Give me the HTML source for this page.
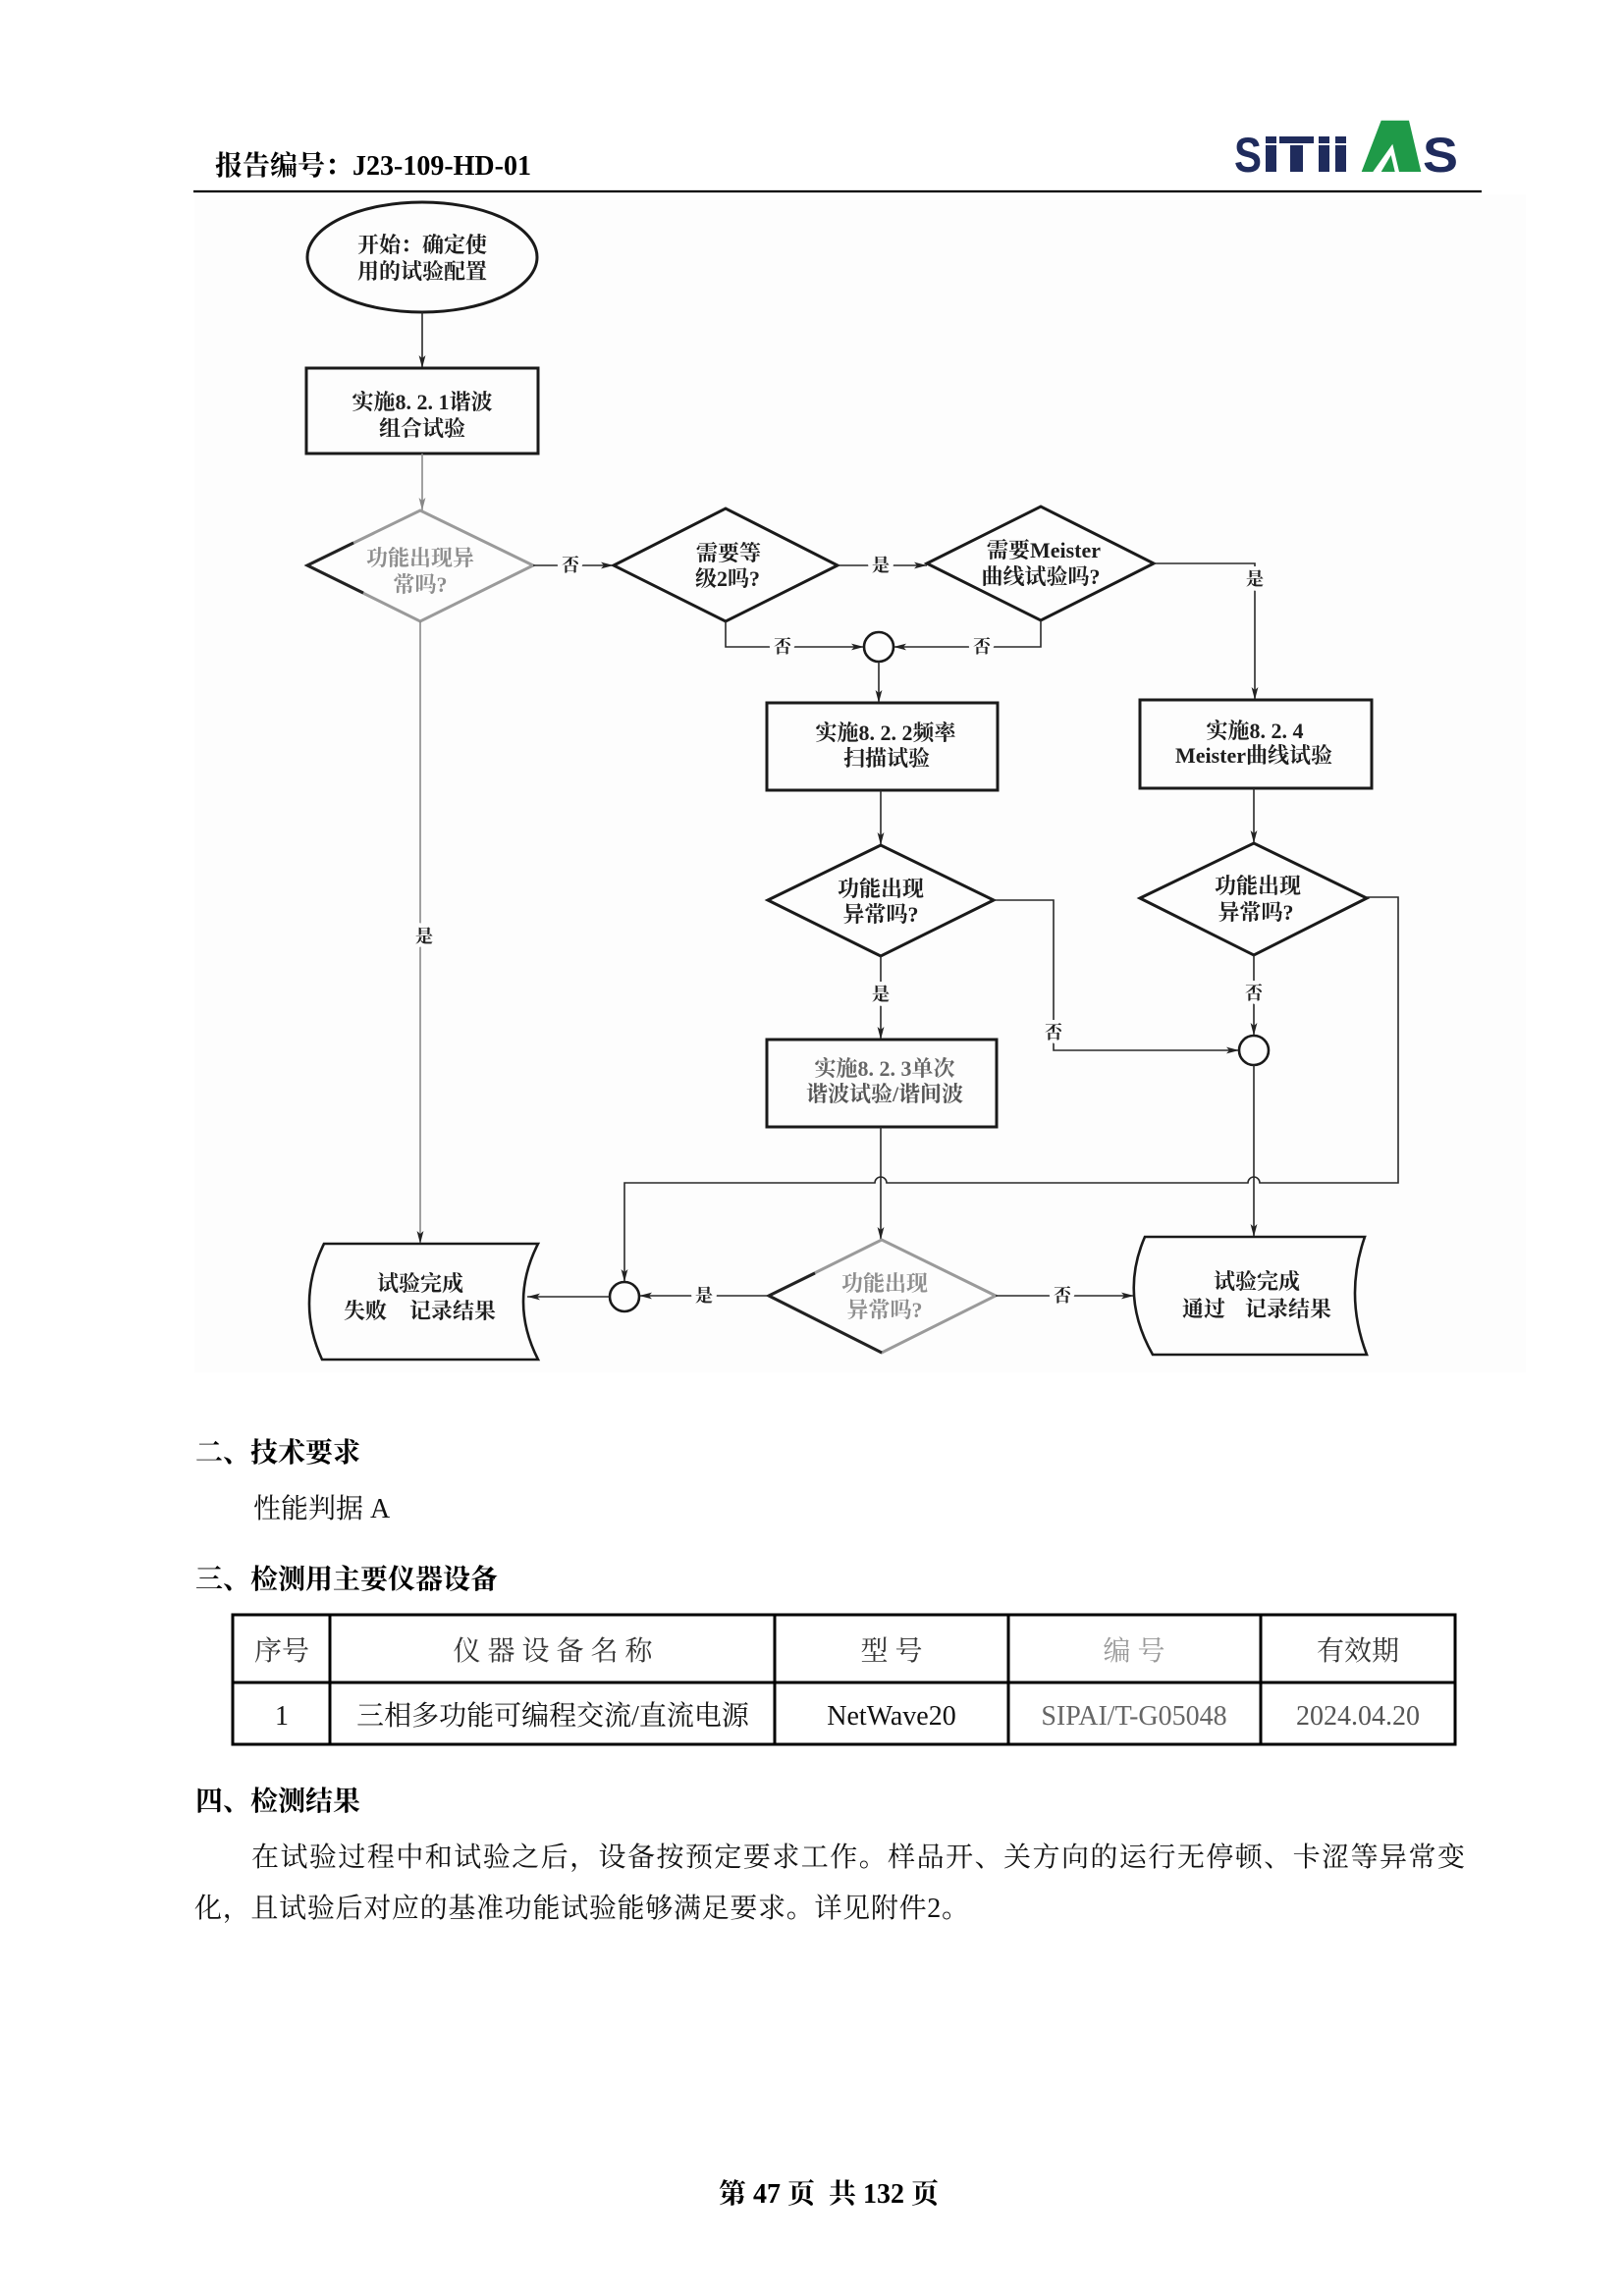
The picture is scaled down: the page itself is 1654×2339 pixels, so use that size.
<!DOCTYPE html>
<html><head><meta charset="utf-8">
<style>
html,body{margin:0;padding:0;background:#fff;}
body{width:1654px;height:2339px;position:relative;overflow:hidden;}
svg{position:absolute;left:0;top:0;}
.fc{font-family:"Liberation Serif","Noto Serif CJK SC",serif;font-size:22px;font-weight:700;fill:#1e1e1e;text-anchor:middle;}
.fg{fill:#8e8e8e;}
.lb{font-family:"Liberation Serif","Noto Serif CJK SC",serif;font-size:18px;font-weight:700;fill:#222;text-anchor:middle;stroke:#fdfdfd;stroke-width:9px;paint-order:stroke;stroke-linejoin:round;}
.ln{fill:none;stroke:#2a2a2a;stroke-width:1.6;}
.lg{fill:none;stroke:#8a8a8a;stroke-width:1.6;}
.bx{fill:#fdfdfd;stroke:#1a1a1a;stroke-width:3;}
.hd{font-family:"Liberation Serif","Noto Serif CJK SC",serif;font-size:28px;font-weight:700;fill:#000;}
.tx{font-family:"Liberation Serif","Noto Serif CJK SC",serif;font-size:28px;font-weight:400;fill:#111;}
.tc{text-anchor:middle;}
</style></head>
<body>
<svg width="1654" height="2339" viewBox="0 0 1654 2339" xmlns="http://www.w3.org/2000/svg">
<defs>
<marker id="a" markerWidth="14" markerHeight="10" refX="13" refY="4" orient="auto" markerUnits="userSpaceOnUse"><path d="M0,0.6 L13,4 L0,7.4 L3,4 Z" fill="#222"/></marker>
<marker id="g" markerWidth="14" markerHeight="10" refX="13" refY="4" orient="auto" markerUnits="userSpaceOnUse"><path d="M0,0.6 L13,4 L0,7.4 L3,4 Z" fill="#888"/></marker>
</defs>

<!-- Header -->
<text x="219" y="178" class="hd">报告编号：J23-109-HD-01</text>
<line x1="197" y1="195" x2="1509" y2="195" stroke="#000" stroke-width="2.2"/>
<!-- Logo -->
<g fill="#1f2b5c">
<text x="1257" y="175" font-family="Liberation Sans, DejaVu Sans, sans-serif" font-weight="700" font-size="50" textLength="28" lengthAdjust="spacingAndGlyphs">S</text>
<rect x="1289" y="139" width="11" height="7"/>
<rect x="1289" y="148" width="11" height="27"/>
<rect x="1303" y="139" width="35" height="7"/>
<rect x="1314" y="148" width="13" height="27"/>
<rect x="1343" y="139" width="11" height="7"/>
<rect x="1343" y="148" width="11" height="27"/>
<rect x="1360" y="139" width="11" height="7"/>
<rect x="1360" y="148" width="11" height="27"/>
<text x="1449" y="175" font-family="Liberation Sans, DejaVu Sans, sans-serif" font-weight="700" font-size="50" textLength="36" lengthAdjust="spacingAndGlyphs">S</text>
</g>
<g fill="#1f9a48">
<polygon points="1406.7,122.7 1435,122.7 1447.3,175 1425,175 1418.3,146.7 1398.3,175 1386.7,175"/>
<polygon points="1406.7,175 1416.7,158 1420.7,175"/>
</g>

<!-- Flowchart background -->
<rect x="198" y="198" width="1356" height="1200" fill="#fdfdfd"/>

<!-- Start ellipse -->
<ellipse cx="430" cy="262" rx="117" ry="56" class="bx"/>
<text x="430" y="257" class="fc">开始：确定使</text>
<text x="430" y="284" class="fc">用的试验配置</text>
<path d="M430,318 V375" class="ln" marker-end="url(#a)"/>

<!-- Rect1 -->
<rect x="312" y="375" width="236" height="87" class="bx"/>
<text x="430" y="417" class="fc">实施8. 2. 1谐波</text>
<text x="430" y="444" class="fc">组合试验</text>
<path d="M430,462 V520" class="lg" marker-end="url(#g)"/>

<!-- Diamond1 (gray) -->
<polygon points="313,576 428,520 543,576 428,633" fill="#fdfdfd" stroke="#9a9a9a" stroke-width="3"/>
<path d="M360,553 L313,576 L370,604" fill="none" stroke="#222" stroke-width="3"/>
<text x="428" y="576" class="fc fg">功能出现异</text>
<text x="428" y="603" class="fc fg">常吗?</text>

<!-- D1 -> D2 -->
<path d="M543,576 H625" class="ln" marker-end="url(#a)"/>
<text x="581" y="582" class="lb">否</text>

<!-- Diamond2 -->
<polygon points="625,576 739,518 853,576 739,633" class="bx"/>
<text x="742" y="571" class="fc">需要等</text>
<text x="741" y="597" class="fc">级2吗?</text>

<!-- D2 -> D3 -->
<path d="M853,576 H944" class="ln" marker-end="url(#a)"/>
<text x="897" y="582" class="lb">是</text>

<!-- Diamond3 -->
<polygon points="944,574 1060,516 1175,574 1060,632" class="bx"/>
<text x="1063" y="568" class="fc">需要Meister</text>
<text x="1060" y="595" class="fc">曲线试验吗?</text>

<!-- D3 -> Rect4 -->
<path d="M1175,574 H1278 V713" class="ln" marker-end="url(#a)"/>
<text x="1278" y="596" class="lb">是</text>

<!-- D2 bottom -> circle1 -->
<path d="M739,633 V659 H880" class="ln" marker-end="url(#a)"/>
<text x="797" y="665" class="lb">否</text>
<!-- D3 bottom -> circle1 -->
<path d="M1060,632 V659 H910" class="ln" marker-end="url(#a)"/>
<text x="1000" y="665" class="lb">否</text>
<circle cx="895" cy="659" r="15" fill="#fdfdfd" stroke="#1a1a1a" stroke-width="2.6"/>
<path d="M895,674 V716" class="ln" marker-end="url(#a)"/>

<!-- Rect2 -->
<rect x="781" y="716" width="235" height="89" class="bx"/>
<text x="902" y="754" class="fc">实施8. 2. 2频率</text>
<text x="903" y="780" class="fc">扫描试验</text>

<!-- Rect4 -->
<rect x="1161" y="713" width="236" height="90" class="bx"/>
<text x="1278" y="752" class="fc">实施8. 2. 4</text>
<text x="1277" y="777" class="fc">Meister曲线试验</text>

<!-- Rect2 -> D4 -->
<path d="M897,805 V861" class="ln" marker-end="url(#a)"/>
<!-- Diamond4 -->
<polygon points="782,917 897,861 1012,917 897,974" class="bx"/>
<text x="897" y="913" class="fc">功能出现</text>
<text x="897" y="939" class="fc">异常吗?</text>

<!-- D4 right -> circle4 -->
<path d="M1012,917 H1073 V1070 H1262" class="ln" marker-end="url(#a)"/>
<text x="1073" y="1058" class="lb">否</text>
<!-- D4 -> Rect3 -->
<path d="M897,974 V1059" class="ln" marker-end="url(#a)"/>
<text x="897" y="1019" class="lb">是</text>

<!-- Rect3 -->
<rect x="781" y="1059" width="234" height="89" class="bx"/>
<text x="901" y="1096" class="fc" style="fill:#666">实施8. 2. 3单次</text>
<text x="901" y="1122" class="fc" style="fill:#555">谐波试验/谐间波</text>

<!-- Rect4 -> D5 -->
<path d="M1277,803 V859" class="ln" marker-end="url(#a)"/>
<!-- Diamond5 -->
<polygon points="1161,915 1277,859 1392,915 1277,973" class="bx"/>
<text x="1281" y="910" class="fc">功能出现</text>
<text x="1279" y="937" class="fc">异常吗?</text>

<!-- D5 right loop -> circle6 -->
<path d="M1392,914 H1424 V1205 H1283 A6,6 0 0 0 1271,1205 H903 A6,6 0 0 0 891,1205 H636 V1306" class="ln" marker-end="url(#a)"/>

<!-- D5 bottom -> circle4 -->
<path d="M1277,973 V1055" class="ln" marker-end="url(#a)"/>
<text x="1277" y="1018" class="lb">否</text>
<circle cx="1277" cy="1070" r="15" fill="#fdfdfd" stroke="#1a1a1a" stroke-width="2.6"/>
<path d="M1277,1085 V1260" class="ln" marker-end="url(#a)"/>

<!-- Rect3 -> D6 -->
<path d="M897,1148 V1263" class="ln" marker-end="url(#a)"/>

<!-- Diamond6 (gray) -->
<polygon points="783,1320 898,1263 1014,1320 898,1378" fill="#fdfdfd" stroke="#9a9a9a" stroke-width="3"/>
<path d="M830,1297 L783,1320 L898,1378" fill="none" stroke="#222" stroke-width="3"/>
<text x="901" y="1315" class="fc fg">功能出现</text>
<text x="901" y="1342" class="fc fg">异常吗?</text>

<!-- D6 left -> circle6 -->
<path d="M783,1320 H651" class="ln" marker-end="url(#a)"/>
<text x="717" y="1326" class="lb">是</text>
<circle cx="636" cy="1321" r="15" fill="#fdfdfd" stroke="#1a1a1a" stroke-width="2.6"/>
<path d="M621,1321 H537" class="ln" marker-end="url(#a)"/>

<!-- D6 right -> Doc right -->
<path d="M1014,1320 H1155" class="ln" marker-end="url(#a)"/>
<text x="1082" y="1326" class="lb">否</text>

<!-- D1 bottom -> Doc left -->
<path d="M428,633 V1267" class="lg" marker-end="url(#a)"/>
<text x="432" y="960" class="lb">是</text>

<!-- Doc left -->
<path d="M330,1267 H548 Q518,1326 548,1385 H328 Q301,1326 330,1267 Z" fill="#fdfdfd" stroke="#1a1a1a" stroke-width="2.6"/>
<text x="428" y="1315" class="fc">试验完成</text>
<text x="350" y="1343" class="fc" style="text-anchor:start">失败</text>
<text x="417" y="1343" class="fc" style="text-anchor:start">记录结果</text>

<!-- Doc right -->
<path d="M1166,1260 H1390 Q1369,1320 1392,1380 H1174 Q1140,1320 1166,1260 Z" fill="#fdfdfd" stroke="#1a1a1a" stroke-width="2.6"/>
<text x="1280" y="1313" class="fc">试验完成</text>
<text x="1204" y="1341" class="fc" style="text-anchor:start">通过</text>
<text x="1268" y="1341" class="fc" style="text-anchor:start">记录结果</text>

<!-- Sections -->
<text x="199" y="1489" class="hd">二、技术要求</text>
<text x="258" y="1546" class="tx">性能判据 A</text>
<text x="199" y="1618" class="hd">三、检测用主要仪器设备</text>

<!-- Table -->
<g stroke="#000" stroke-width="3" fill="none">
<rect x="237" y="1645" width="1245" height="132"/>
<line x1="237" y1="1714" x2="1482" y2="1714"/>
<line x1="336" y1="1645" x2="336" y2="1777"/>
<line x1="789" y1="1645" x2="789" y2="1777"/>
<line x1="1027" y1="1645" x2="1027" y2="1777"/>
<line x1="1284" y1="1645" x2="1284" y2="1777"/>
</g>
<text x="287" y="1691" class="tx tc" style="fill:#333">序号</text>
<text x="563" y="1691" class="tx tc" style="white-space:pre;fill:#333">仪 器 设 备 名 称</text>
<text x="908" y="1691" class="tx tc" style="white-space:pre;fill:#333">型 号</text>
<text x="1155" y="1691" class="tx tc" style="white-space:pre;fill:#999">编 号</text>
<text x="1383" y="1691" class="tx tc" style="fill:#333">有效期</text>
<text x="287" y="1757" class="tx tc">1</text>
<text x="563" y="1757" class="tx tc">三相多功能可编程交流/直流电源</text>
<text x="908" y="1757" class="tx tc">NetWave20</text>
<text x="1155" y="1757" class="tx tc" style="fill:#666">SIPAI/T-G05048</text>
<text x="1383" y="1757" class="tx tc" style="fill:#555">2024.04.20</text>

<text x="199" y="1844" class="hd">四、检测结果</text>
<text x="256" y="1901" class="tx" textLength="1236" lengthAdjust="spacing">在试验过程中和试验之后，设备按预定要求工作。样品开、关方向的运行无停顿、卡涩等异常变</text>
<text x="198" y="1953" class="tx" textLength="789" lengthAdjust="spacing">化，且试验后对应的基准功能试验能够满足要求。详见附件2。</text>

<!-- Footer -->
<text x="732" y="2244" class="hd" style="white-space:pre">第 47 页  共 132 页</text>
</svg>
</body></html>
